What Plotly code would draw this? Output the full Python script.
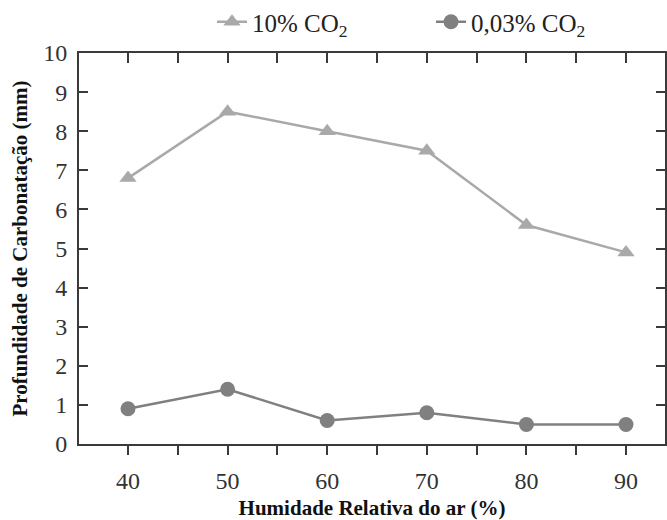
import plotly.graph_objects as go

humidity = [40, 50, 60, 70, 80, 90]
co2_10 = [6.8, 8.5, 8.0, 7.5, 5.6, 4.9]
co2_003 = [0.9, 1.4, 0.6, 0.8, 0.5, 0.5]
series_names = ["10% CO<sub>2</sub>", "0,03% CO<sub>2</sub>"]
x_tickvals = [35, 40, 45, 50, 55, 60, 65, 70, 75, 80, 85, 90, 95]
x_ticktext = ["", "40", "", "50", "", "60", "", "70", "", "80", "", "90", ""]
y_tickvals = list(range(0, 11))

W, H = 667, 520
ML, MR, MT, MB = 79, 2, 53, 76
px_per_unit = 9.96
x0 = 35.08
x1 = x0 + (W - ML - MR) / px_per_unit
plot_h = H - MT - MB

serif = "Liberation Serif, Times New Roman, serif"

fig = go.Figure()
fig.add_trace(go.Scatter(
    x=humidity, y=co2_10, name=series_names[0], mode="lines+markers",
    line=dict(color="#a9a9a9", width=2.5),
    marker=dict(symbol="triangle-up", size=15, color="#a9a9a9"),
))
fig.add_trace(go.Scatter(
    x=humidity, y=co2_003, name=series_names[1], mode="lines+markers",
    line=dict(color="#808080", width=2.5),
    marker=dict(symbol="circle", size=15, color="#808080"),
))
# invisible trace to anchor top axis
fig.add_trace(go.Scatter(
    x=humidity, y=co2_003, xaxis="x2", mode="markers",
    marker=dict(opacity=0), showlegend=False, hoverinfo="skip",
))

axis_line = "#3a3a3a"
fig.update_layout(
    width=W, height=H,
    margin=dict(l=ML, r=MR, t=MT, b=MB, pad=0, autoexpand=False),
    paper_bgcolor="white", plot_bgcolor="white",
    font=dict(family=serif, color="#333333"),
    showlegend=True,
    legend=dict(
        orientation="h", x=(212 - ML) / (W - ML - MR), xanchor="left",
        y=1 + (MT - 22) / plot_h, yanchor="middle",
        font=dict(size=25, family=serif, color="#222222"),
        bgcolor="rgba(0,0,0,0)", entrywidth=174,
        tracegroupgap=0,
    ),
    xaxis=dict(
        range=[x0, x1], tickmode="array", tickvals=x_tickvals, ticktext=x_ticktext,
        ticks="outside", ticklen=9, tickwidth=2, tickcolor=axis_line,
        showline=True, linecolor=axis_line, linewidth=2, showgrid=False, zeroline=False,
        tickfont=dict(size=24, family=serif, color="#333333"),
        ticklabelstandoff=5, automargin=False,
        title=dict(text="<b>Humidade Relativa do ar (%)</b>",
                   font=dict(size=21, family=serif, color="#111111"), standoff=9),
    ),
    xaxis2=dict(
        range=[x0, x1], overlaying="x", side="top", anchor="y",
        tickmode="array", tickvals=x_tickvals, showticklabels=False,
        ticks="inside", ticklen=10, tickwidth=2, tickcolor=axis_line,
        showline=True, linecolor=axis_line, linewidth=2, showgrid=False, zeroline=False,
        automargin=False,
    ),
    yaxis=dict(
        range=[0, 10], tickmode="array", tickvals=y_tickvals,
        ticks="inside", ticklen=9, tickwidth=2, tickcolor=axis_line,
        showline=True, linecolor=axis_line, linewidth=2, mirror="ticks",
        showgrid=False, zeroline=False,
        tickfont=dict(size=24, family=serif, color="#333333"),
        ticklabelstandoff=5, automargin=False,
        title=dict(text="<b>Profundidade de Carbonatação (mm)</b>",
                   font=dict(size=21, family=serif, color="#111111"), standoff=10),
    ),
)

fig.write_html(
    "out.html",
    config={"displayModeBar": False},
    post_script="document.body.style.margin='0';document.body.style.overflow='hidden';",
)
